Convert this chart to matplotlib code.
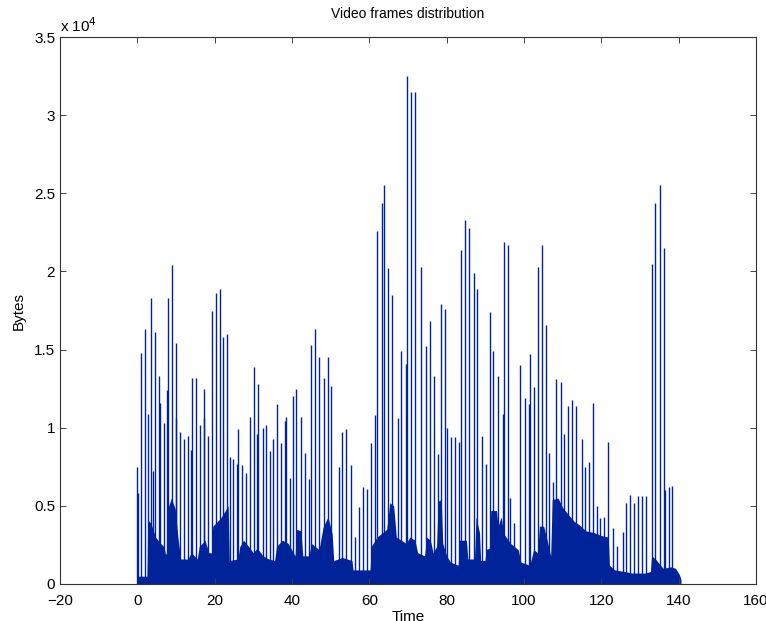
import numpy as np
import matplotlib
matplotlib.use("Agg")
import matplotlib.pyplot as plt

## data (bytes, time in seconds)

# tall I-frame spikes: time, size in thousands of bytes
spike_t = [0.0, 0.3, 0.95, 2.0, 2.8, 3.6, 4.1, 4.7, 5.7, 5.9, 6.9, 7.8, 7.9, 9.0,
           10.0, 10.1, 11.1, 12.2, 13.1, 14.0, 14.1, 15.2, 16.2, 17.2, 17.3, 18.4,
           19.2, 20.3, 21.3, 22.2, 23.2, 23.9, 24.8, 25.9, 26.0, 27.1, 28.1, 29.1,
           30.2, 31.0, 31.1, 32.4, 33.4, 34.3, 35.1, 36.0, 37.2, 38.1, 38.5, 39.5,
           40.3, 41.1, 42.4, 43.4, 44.4, 44.9, 45.9, 47.0, 48.2, 49.2, 50.2, 52.2,
           52.9, 53.9, 55.3, 56.4, 57.4, 58.4, 59.4, 60.4, 61.4, 62.1, 63.3, 63.9,
           64.9, 65.9, 67.3, 68.3, 69.4, 69.8, 70.9, 71.8, 73.3, 74.6, 75.7, 76.8,
           77.8, 78.5, 79.6, 80.2, 81.1, 82.2, 83.2, 83.8, 84.8, 85.9, 87.1, 87.9,
           89.2, 90.3, 91.1, 92.1, 93.2, 94.5, 94.8, 95.9, 96.5, 97.5, 99.1, 100.2,
           101.2, 101.6, 102.6, 103.5, 104.6, 105.6, 106.5, 107.6, 108.4, 109.5,
           110.4, 111.5, 112.5, 113.5, 115.0, 115.8, 116.9, 117.9, 118.8, 119.6,
           120.8, 121.7, 123.0, 124.0, 125.6, 126.5, 127.5, 128.5, 129.5, 130.6,
           131.6, 133.0, 134.0, 135.2, 136.1, 136.4, 137.4, 138.3]
spike_h = [7.5, 5.8, 14.8, 16.3, 10.9, 18.3, 7.2, 16.1, 13.3, 11.6, 10.3, 12.4, 18.3, 20.4,
           15.4, 10.6, 9.7, 9.3, 9.5, 8.6, 13.2, 13.2, 10.2, 10.6, 12.5, 9.5,
           17.5, 18.6, 18.9, 15.8, 16.0, 8.1, 8.0, 7.7, 9.9, 7.6, 7.1, 10.7,
           13.9, 9.6, 12.8, 10.0, 10.2, 8.5, 9.3, 11.5, 9.0, 10.4, 10.7, 6.8,
           12.0, 12.5, 10.7, 8.4, 6.7, 15.3, 16.3, 14.5, 13.2, 14.5, 12.7, 7.5,
           9.7, 9.9, 7.6, 3.0, 4.9, 6.2, 6.1, 9.0, 10.8, 22.6, 24.4, 25.5,
           20.2, 18.5, 10.6, 14.9, 14.1, 32.5, 31.5, 31.5, 20.3, 15.2, 16.8, 13.3,
           8.3, 17.9, 17.6, 10.0, 9.4, 9.4, 9.1, 21.4, 23.3, 22.8, 19.9, 18.9,
           9.5, 7.7, 17.4, 14.9, 13.3, 10.9, 21.9, 21.7, 5.5, 3.9, 14.0, 11.9,
           11.5, 14.7, 12.6, 20.3, 21.7, 16.6, 8.4, 6.5, 13.1, 12.9,
           9.6, 11.4, 11.8, 11.4, 9.3, 7.5, 7.8, 11.6, 5.0, 4.2,
           4.3, 9.1, 3.6, 2.4, 3.3, 5.2, 5.7, 5.2, 5.6, 5.6,
           5.6, 20.5, 24.4, 25.5, 21.5, 6.0, 6.2, 6.3]

# dense P/B-frame body: envelope time, size in thousands of bytes
base_t = [0, 2.5, 2.7, 3.5, 4.7, 6.0, 6.9, 7.3, 7.7, 8.0, 8.8, 9.8, 10.5, 11.2, 13, 14,
          15.5, 16, 17.5, 18.5, 19.2, 19.5, 21.5, 23.5, 23.8, 26, 26.5, 27.5, 28.8,
          30, 31, 32.5, 34, 35.5, 36, 37.5, 39, 40.8, 41.2, 42.3, 42.8, 44.4, 45,
          47, 48, 49.3, 50.4, 50.8, 53, 55.5, 55.8, 60.2, 60.5, 62, 64.5, 65.3,
          66.3, 67, 69.5, 70.5, 71.8, 72.5, 74.3, 74.8, 75.8, 76.5, 77.4, 77.8,
          78.6, 79, 80, 81, 83, 83.3, 85.1, 85.5, 87.2, 87.6, 88.5, 88.8, 89.9,
          90.2, 91.1, 91.4, 92.9, 93.3, 94.1, 94.8, 96.5, 98.5, 99.2, 101.5, 102.5,
          103.5, 104, 105.1, 106, 106.9, 107.3, 108.8, 110, 111.6, 113, 114.2, 116,
          118, 120, 121.8, 122.1, 123.5, 126, 128, 131.4, 132.7, 133, 134, 136,
          138, 139.2, 140.2, 140.6]
base_h = [0.5, 0.5, 4.1, 3.9, 3.0, 2.6, 2.4, 1.9, 2.0, 4.9, 5.5, 4.8, 3.0, 1.6, 1.6, 2.0,
          1.6, 2.4, 2.8, 2.0, 2.0, 3.7, 4.2, 5.0, 1.5, 1.6, 2.4, 2.8, 2.4,
          2.0, 2.3, 1.8, 1.6, 1.5, 2.4, 2.8, 2.6, 1.8, 3.5, 3.4, 1.8, 1.8, 2.6,
          2.2, 3.6, 4.3, 3.2, 1.5, 1.7, 1.5, 0.9, 0.9, 2.4, 3.0, 3.5, 5.2,
          5.0, 3.0, 2.6, 3.0, 2.8, 2.0, 1.8, 3.0, 2.8, 2.0, 2.4, 5.3,
          5.4, 2.6, 1.8, 1.4, 1.2, 2.8, 2.8, 1.6, 1.6, 4.3, 3.3, 1.5, 1.5,
          2.2, 2.3, 4.7, 4.7, 3.7, 4.3, 3.2, 2.6, 2.2, 1.4, 1.2, 2.2,
          2.0, 3.7, 3.7, 2.8, 1.8, 5.4, 5.5, 4.9, 4.4, 4.0, 3.8, 3.4,
          3.3, 3.1, 3.0, 1.2, 0.9, 0.8, 0.7, 0.7, 0.8, 1.8, 1.6, 1.0,
          1.1, 1.0, 0.6, 0.3]

ytick_vals   = [0, 0.5, 1, 1.5, 2, 2.5, 3, 3.5]
ytick_labels = ['0', '0.5', '1', '1.5', '2', '2.5', '3', '3.5']
xtick_vals   = [-20, 0, 20, 40, 60, 80, 100, 120, 140, 160]

## plotting

plt.rcParams['font.family'] = ['Liberation Sans', 'DejaVu Sans']
color = '#00239a'

fig = plt.figure(figsize=(7.66, 6.21), dpi=100)
ax = fig.add_axes([0.0783, 0.0596, 0.9086, 0.8808])

ax.fill_between(base_t, 0, np.array(base_h) * 1000, color=color, linewidth=0)
ax.vlines(spike_t, 0, np.array(spike_h) * 1000, color=color, linewidth=1.0)

ax.set_xlim(-20, 160)
ax.set_ylim(0, 35000)
ax.set_xticks(xtick_vals)
ax.set_xticklabels([str(v).replace('-', '\u2212') for v in xtick_vals])
ax.set_yticks([v * 10000 for v in ytick_vals])
ax.set_yticklabels(ytick_labels)
ax.tick_params(direction='in', top=True, right=True, labelsize=11, length=4,
               color='#444444', width=0.7)
ax.tick_params(axis='x', pad=7)
for s in ax.spines.values():
    s.set_color('#333333')
    s.set_linewidth(0.8)

ax.text(0.0, 1.004, 'x 10$^{4}$', transform=ax.transAxes, fontsize=11,
        ha='left', va='bottom')
ax.set_title('Video frames distribution', fontsize=10, pad=14)
ax.set_xlabel('Time', fontsize=11, labelpad=2)
ax.set_ylabel('Bytes', fontsize=11, labelpad=6)

fig.savefig('out.png', dpi=100)
